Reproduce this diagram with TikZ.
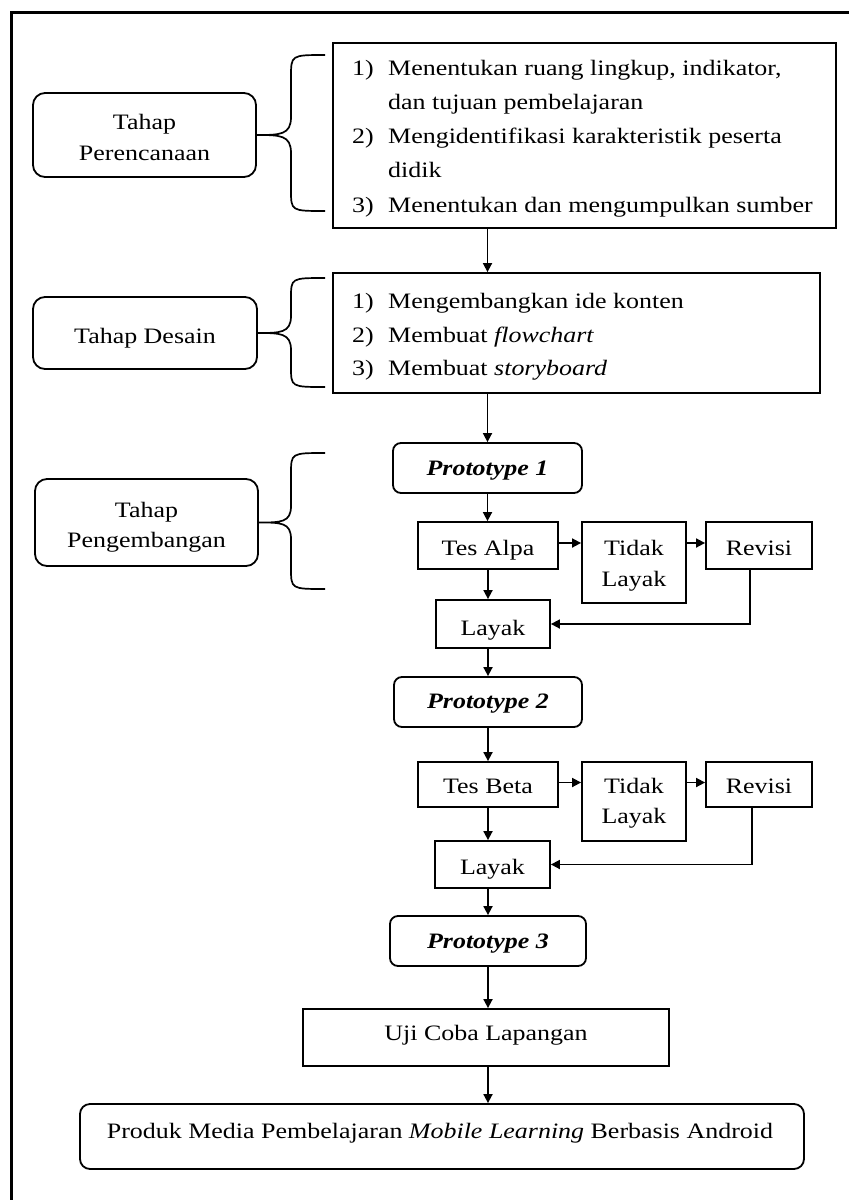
\documentclass[tikz,border=0pt]{standalone}
\usepackage{fontspec}
\setmainfont{Liberation Serif}[FakeStretch=1.18]
\usetikzlibrary{arrows.meta}
\begin{document}
\begin{tikzpicture}[x=1pt,y=-1pt,
  font=\fontsize{22}{26}\selectfont,
  sq/.style={draw, line width=1.8pt, rectangle, inner sep=0pt},
  rnd/.style={sq, rounded corners=12pt},
  rnds/.style={sq, rounded corners=8pt},
  lbl/.style={inner sep=0pt, anchor=base},
  itm/.style={inner sep=0pt, anchor=base west},
  arr/.style={line width=1.7pt, -{Triangle[length=9pt,width=9pt]}},
  brc/.style={line width=1.7pt},
  frame/.style={line width=3pt}]
\useasboundingbox (0,0) rectangle (849,1200);
\draw[frame] (11,1200) -- (11,12) -- (849,12);

% stage boxes
\node[rnd, minimum width=223pt, minimum height=84pt] (tp) at (144.5,135) {};
\node[lbl] (tp1) at (144.5,129) {Tahap};
\node[lbl] (tp2) at (144.5,160) {Perencanaan};
\node[rnd, minimum width=224pt, minimum height=72pt] (td) at (145,333) {};
\node[lbl] (td1) at (145,343) {Tahap Desain};
\node[rnd, minimum width=223pt, minimum height=87pt] (tg) at (146.5,522.5) {};
\node[lbl] (tg1) at (146.5,517) {Tahap};
\node[lbl] (tg2) at (146.5,547) {Pengembangan};

% content box 1
\node[sq, minimum width=503pt, minimum height=185pt] (b1) at (584.5,135.5) {};
\node[itm] (n11) at (352,75) {1)};
\node[itm] (t11) at (388,75) {Menentukan ruang lingkup, indikator,};
\node[itm] (t12) at (388,109.25) {dan tujuan pembelajaran};
\node[itm] (n12) at (352,143.5) {2)};
\node[itm] (t13) at (388,143.5) {Mengidentifikasi karakteristik peserta};
\node[itm] (t14) at (388,177.75) {didik};
\node[itm] (n13) at (352,212) {3)};
\node[itm] (t15) at (388,212) {Menentukan dan mengumpulkan sumber};

% content box 2
\node[sq, minimum width=487pt, minimum height=120pt] (b2) at (576.5,333) {};
\node[itm] (n21) at (352,308) {1)};
\node[itm] (t21) at (388,308) {Mengembangkan ide konten};
\node[itm] (n22) at (352,342) {2)};
\node[itm] (t22) at (388,342) {Membuat \textit{flowchart}};
\node[itm] (n23) at (352,375) {3)};
\node[itm] (t23) at (388,375) {Membuat \textit{storyboard}};

% braces
\draw[brc] (325,55) .. controls (291,55) .. (291,77) -- (291,117)
  .. controls (291,135) and (280,135) .. (tp.east)
  .. controls (280,135) and (291,135) .. (291,153) -- (291,190)
  .. controls (291,211) .. (325,211);
\draw[brc] (325,278) .. controls (291,278) .. (291,298) -- (291,316)
  .. controls (291,333) and (280,333) .. (td.east)
  .. controls (280,333) and (291,333) .. (291,350) -- (291,367)
  .. controls (291,387) .. (325,387);
\draw[brc] (325,453) .. controls (291,453) .. (291,474) -- (291,506)
  .. controls (291,522.5) and (281,522.5) .. (tg.east)
  .. controls (281,522.5) and (291,522.5) .. (291,539) -- (291,568)
  .. controls (291,589) .. (325,589);

% development flow
\node[rnds, minimum width=189pt, minimum height=50pt] (p1) at (487.5,468) {};
\node[lbl] (p1t) at (487.5,475) {\textbf{\textit{Prototype 1}}};
\node[sq, minimum width=140pt, minimum height=47pt] (ta) at (488,545.5) {};
\node[lbl] (tat) at (488,555) {Tes Alpa};
\node[sq, minimum width=104pt, minimum height=81pt] (tl1) at (634,562.5) {};
\node[lbl] (tl1a) at (634,555) {Tidak};
\node[lbl] (tl1b) at (634,586) {Layak};
\node[sq, minimum width=106pt, minimum height=47pt] (rv1) at (759,545.5) {};
\node[lbl] (rv1t) at (759,555) {Revisi};
\node[sq, minimum width=114pt, minimum height=48pt] (ly1) at (493,624) {};
\node[lbl] (ly1t) at (493,635) {Layak};

\node[rnds, minimum width=188pt, minimum height=50pt] (p2) at (488,702) {};
\node[lbl] (p2t) at (488,708) {\textbf{\textit{Prototype 2}}};
\node[sq, minimum width=140pt, minimum height=45pt] (tb) at (488,784.5) {};
\node[lbl] (tbt) at (488,793) {Tes Beta};
\node[sq, minimum width=104pt, minimum height=79pt] (tl2) at (634,801.5) {};
\node[lbl] (tl2a) at (634,793) {Tidak};
\node[lbl] (tl2b) at (634,823) {Layak};
\node[sq, minimum width=106pt, minimum height=45pt] (rv2) at (759,784.5) {};
\node[lbl] (rv2t) at (759,793) {Revisi};
\node[sq, minimum width=115pt, minimum height=47pt] (ly2) at (492.5,864.5) {};
\node[lbl] (ly2t) at (492.5,874) {Layak};

\node[rnds, minimum width=196pt, minimum height=50pt] (p3) at (488,941) {};
\node[lbl] (p3t) at (488,948) {\textbf{\textit{Prototype 3}}};
\node[sq, minimum width=366pt, minimum height=57pt] (uc) at (486,1037.5) {};
\node[lbl] (uct) at (486,1040) {Uji Coba Lapangan};
\node[rnd, minimum width=724pt, minimum height=65pt, rounded corners=10pt] (pr) at (442,1136.5) {};
\node[lbl] (prt) at (440,1138) {Produk Media Pembelajaran \textit{Mobile Learning} Berbasis Android};

% arrows
\draw[arr] (b1.south -| p1.north) -- (b2.north -| p1.north);
\draw[arr] (b2.south -| p1.north) -- (p1.north);
\draw[arr] (p1.south) -- (p1.south |- ta.north);
\draw[arr] (ta.south) -- (ta.south |- ly1.north);
\draw[arr] (ly1.south -| ta.south) -- (p2.north -| ta.south);
\draw[arr] ([yshift=2.5pt]ta.east) -- ([yshift=2.5pt]ta.east -| tl1.west);
\draw[arr] ([yshift=2.5pt]ta.east -| tl1.east) -- ([yshift=2.5pt]ta.east -| rv1.west);
\draw[arr] ([xshift=-9pt]rv1.south) |- (ly1.east);

\draw[arr] (p2.south) -- (p2.south |- tb.north);
\draw[arr] (tb.south) -- (tb.south |- ly2.north);
\draw[arr] (ly2.south -| tb.south) -- (p3.north -| tb.south);
\draw[arr] ([yshift=2pt]tb.east) -- ([yshift=2pt]tb.east -| tl2.west);
\draw[arr] ([yshift=2pt]tb.east -| tl2.east) -- ([yshift=2pt]tb.east -| rv2.west);
\draw[arr] ([xshift=-7pt]rv2.south) |- (ly2.east);

\draw[arr] (p3.south) -- (p3.south |- uc.north);
\draw[arr] (uc.south -| p3.south) -- (pr.north -| p3.south);
\end{tikzpicture}
\end{document}
